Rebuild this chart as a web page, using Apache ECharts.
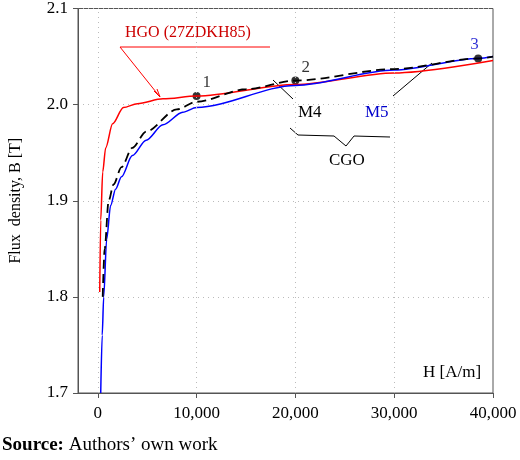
<!DOCTYPE html>
<html>
<head>
<meta charset="utf-8">
<script src="https://cdn.jsdelivr.net/npm/echarts@6/dist/echarts.min.js"></script>
<style>html,body{margin:0;padding:0;background:#fff}#chart{width:520px;height:460px}</style>
</head>
<body>
<div id="chart"></div>
<script>
var hgoH = [200, 300, 500, 800, 1500, 2600, 4000, 6600, 10000, 20000, 30000, 40000];
var hgoB = [1.805, 1.88, 1.93, 1.955, 1.98, 1.997, 2.001, 2.006, 2.009, 2.021, 2.033, 2.046];
var m5H = [300, 450, 600, 900, 1300, 1800, 2400, 3500, 4900, 6600, 8600, 10000, 20000, 30000, 38500, 40000];
var m5B = [1.7, 1.76, 1.8, 1.86, 1.895, 1.912, 1.925, 1.947, 1.963, 1.979, 1.992, 1.997, 2.020, 2.036, 2.048, 2.050];
var m4H = [500, 700, 1100, 1600, 2400, 3500, 4900, 8000, 10000, 15000, 20000, 30000, 38500, 40000];
var m4B = [1.8, 1.85, 1.9, 1.917, 1.935, 1.955, 1.972, 1.995, 2.003, 2.016, 2.025, 2.037, 2.048, 2.050];
var ptH = [10000, 20000, 38500];
var ptB = [2.009, 2.025, 2.048];
var ptLabels = ['1', '2', '3'];
var xTicks = [0, 10000, 20000, 30000, 40000];

var font = 'Liberation Serif';
function pairs(xs, ys) {
	return xs.map(function(x, i) { return [x, ys[i]]; });
}

var myChart = echarts.init(document.getElementById('chart'));
var option = {
	backgroundColor: '#ffffff',
	animation: false,
	textStyle: { fontFamily: font },
	grid: { left: 73, right: 27, top: 6, bottom: 67, show: true, borderColor: '#555', borderWidth: 1 },
	xAxis: {
		type: 'value', min: -2000, max: 40000,
		axisLine: { onZero: false, lineStyle: { color: '#555' } },
		axisTick: { customValues: xTicks, length: 5, lineStyle: { color: '#555' } },
		axisLabel: {
			customValues: xTicks, color: '#000', fontSize: 17, fontFamily: font, margin: 12,
			formatter: function(v) { return v.toLocaleString('en-US'); }
		},
		splitLine: { show: false }
	},
	yAxis: {
		type: 'value', min: 1.7, max: 2.1, interval: 0.1,
		name: 'Flux  density, B [T]', nameLocation: 'middle', nameGap: 54,
		nameTextStyle: { color: '#000', fontSize: 16, fontFamily: font },
		axisLine: { show: true, onZero: false, lineStyle: { color: '#555' } },
		axisTick: { show: true, length: 5, lineStyle: { color: '#555' } },
		axisLabel: { color: '#000', fontSize: 17, fontFamily: font, margin: 10,
			formatter: function(v) { return v.toFixed(1); } },
		splitLine: { lineStyle: { color: '#bbb', type: [1, 4] } }
	},
	series: [
		{ type: 'line', data: pairs(hgoH, hgoB), symbol: 'none', smooth: 0.3, smoothMonotone: 'x',
			lineStyle: { color: '#ff0000', width: 1.5 },
			markLine: { silent: true, symbol: 'none', label: { show: false },
				lineStyle: { color: '#bbb', type: [1, 4], width: 1 },
				data: [{ xAxis: 0 }, { xAxis: 10000 }, { xAxis: 20000 }, { xAxis: 30000 }] } },
		{ type: 'line', data: pairs(m5H, m5B), symbol: 'none', smooth: 0.3, smoothMonotone: 'x',
			lineStyle: { color: '#0000ff', width: 1.5 } },
		{ type: 'line', data: pairs(m4H, m4B), symbol: 'none', smooth: 0.3, smoothMonotone: 'x',
			lineStyle: { color: '#000', width: 1.8, type: [9, 5] } },
		{ type: 'scatter', symbolSize: 8, itemStyle: { color: '#000' },
			data: ptH.map(function(h, i) {
				return { value: [h, ptB[i]], label: { show: true, formatter: ptLabels[i], position: [i === 2 ? -4 : 10, -18],
					fontSize: 17, fontFamily: font, color: i === 2 ? '#0000cc' : '#000' } };
			}) }
	],
	graphic: [
		{ type: 'text', left: 125, top: 25, style: { text: 'HGO (27ZDKH85)', fill: '#cc0000', font: '16px Liberation Serif' } },
		{ type: 'polyline', shape: { points: [[270, 47], [120, 47], [160, 97]] }, style: { stroke: '#ff0000', lineWidth: 1, fill: null } },
		{ type: 'polyline', shape: { points: [[154, 91], [160, 97], [157, 89]] }, style: { stroke: '#ff0000', lineWidth: 1, fill: null } },
		{ type: 'line', shape: { x1: 273, y1: 80, x2: 293, y2: 99 }, style: { stroke: '#000', lineWidth: 1 } },
		{ type: 'text', left: 298, top: 104, style: { text: 'M4', fill: '#000', font: '17px Liberation Serif' } },
		{ type: 'line', shape: { x1: 393, y1: 96, x2: 432, y2: 63 }, style: { stroke: '#000', lineWidth: 1 } },
		{ type: 'text', left: 365, top: 104, style: { text: 'M5', fill: '#0000cc', font: '17px Liberation Serif' } },
		{ type: 'polyline', shape: { points: [[290, 128], [298, 135], [334, 136], [346, 146], [354, 136], [390, 137]] }, style: { stroke: '#000', lineWidth: 1, fill: null } },
		{ type: 'text', left: 329, top: 152, style: { text: 'CGO', fill: '#000', font: '17px Liberation Serif' } },
		{ type: 'text', left: 423, top: 364, style: { text: 'H [A/m]', fill: '#000', font: '17px Liberation Serif' } },
		{ type: 'text', left: 2, top: 436, style: { text: '{b|Source:} Authors\u2019 own work',
			rich: { b: { fontWeight: 'bold', fontSize: 19, fontFamily: font } }, fill: '#000', font: '19px Liberation Serif' } }
	]
};
myChart.setOption(option);
</script>
</body>
</html>
